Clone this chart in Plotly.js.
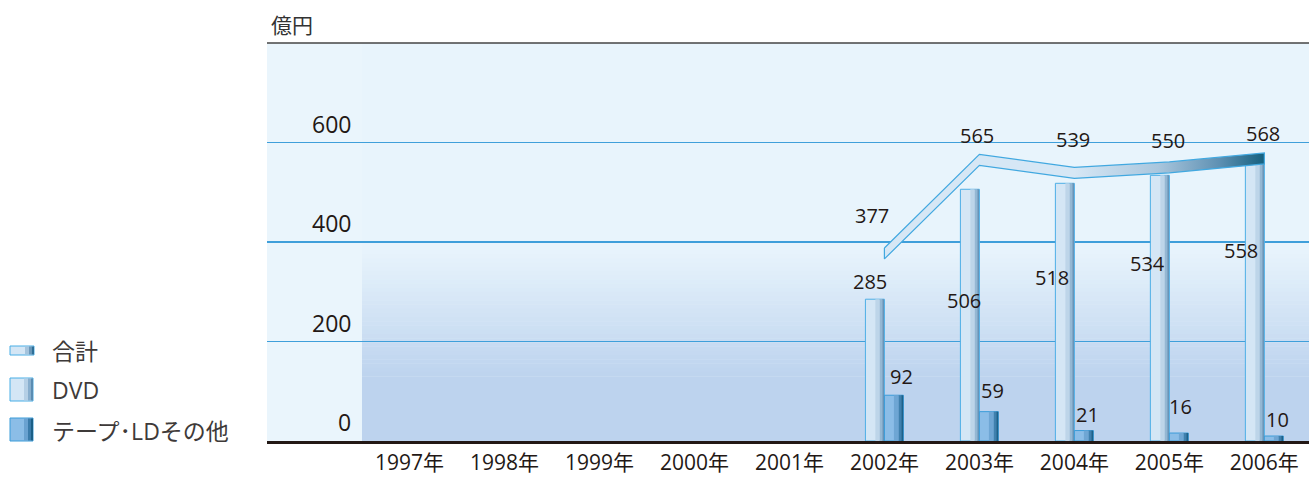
<!DOCTYPE html>
<html>
<head>
<meta charset="utf-8">
<script src="https://cdn.plot.ly/plotly-3.0.1.min.js"></script>
<style>
html,body{margin:0;padding:0;background:#fff;}
#chart{width:1309px;height:477px;}
</style>
</head>
<body>
<div id="chart"></div>
<script>
// ---------- data ----------
const categories = ['1997年','1998年','1999年','2000年','2001年','2002年','2003年','2004年','2005年','2006年'];
const dvdValues   = [null, null, null, null, null, 285, 506, 518, 534, 558];
const tapeValues  = [null, null, null, null, null, 92, 59, 21, 16, 10];
const totalValues = [null, null, null, null, null, 377, 565, 539, 550, 568];
const yTickValues = [0, 200, 400, 600];
const unitLabel = '億円';
const seriesNames = ['合計', 'DVD', 'テープ･LDその他'];

// ---------- styling / layout helpers ----------
const FONT = "'Open Sans', 'Noto Sans CJK JP', sans-serif";
const TXT = '#231815';
const W = 1309, H = 477;
const M = {l: 267, r: 0, t: 43, b: 36};
const PW = W - M.l - M.r, PH = H - M.t - M.b;
const YMAX = 800;
const px = x => (x - M.l) / PW;           // pixel -> paper x
const py = y => (H - M.b - y) / PH;       // pixel -> paper y

// label offsets (pixels) relative to each value point
const dvdLabelDx = [0,0,0,0,0,-14.5,-15.5,-22.5,-21.5,-23];
const dvdLabelDy = [0,0,0,0,0, 18,-111,-94,-88,-87];
const tapeLabelDx = [0,0,0,0,0, 17.5,13.5,13.5,11.5,13];
const tapeLabelDy = [0,0,0,0,0, 19,21,16,27,17];
const totalLabelDx = [0,0,0,0,0,-12.5,-2.5,-1.5,-1.5,-1];
const totalLabelDy = [0,0,0,0,0, 38,24,33,27,25];

function barLayer(vals, offset, width, color, line) {
  return {
    type: 'bar', x: categories, y: vals, offset: offset, width: width,
    marker: {color: color, line: line || {width: 0}},
    showlegend: false, hoverinfo: 'skip'
  };
}

const traces = [];
// DVD bars (light cylinder look)
traces.push(barLayer(dvdValues, -0.2, 0.2, '#d4e6f5', {color: '#4daee6', width: 1}));
traces.push(barLayer(dvdValues, -0.095, 0.045, '#bdd5e9'));
traces.push(barLayer(dvdValues, -0.05, 0.03, '#94b7d3'));
traces.push(barLayer(dvdValues, -0.022, 0.018, '#6794b8'));
// Tape / LD bars
traces.push(barLayer(tapeValues, 0, 0.2, '#8bbde7', {color: '#3b9cd9', width: 1}));
traces.push(barLayer(tapeValues, 0.10, 0.05, '#6ea6d4'));
traces.push(barLayer(tapeValues, 0.15, 0.03, '#3f80ae'));
traces.push(barLayer(tapeValues, 0.178, 0.02, '#1d6189'));

// Total as a ribbon built from the values
const HALF = 11;
const idx = totalValues.map((v, i) => v == null ? -1 : i).filter(i => i >= 0);
const rx = idx.map(i => categories[i]).concat(idx.slice().reverse().map(i => categories[i]));
const ry = idx.map(i => totalValues[i] + HALF).concat(idx.slice().reverse().map(i => totalValues[i] - HALF));
rx.push(rx[0]); ry.push(ry[0]);
traces.push({
  type: 'scatter', mode: 'lines', x: rx, y: ry, fill: 'toself',
  fillcolor: '#d6e7f5',
  fillgradient: {type: 'horizontal', colorscale: [[0,'#d6e7f5'],[0.5,'#d6e7f5'],[0.72,'#a9c6dd'],[0.88,'#5f91b3'],[1,'#15607f']]},
  line: {color: '#41a8e0', width: 1.2},
  showlegend: false, hoverinfo: 'skip'
});

// ---------- shapes ----------
const shapes = [];
// background: light top, gradient into deeper blue lower down
const topCol = [232, 244, 252], botCol = [189, 211, 238];
const gTop = 384, gBot = 130, N = 30;
shapes.push({type:'rect', layer:'below', xref:'paper', yref:'y', x0:0, x1:1, y0:gTop, y1:YMAX, line:{width:0}, fillcolor:'rgb(232,244,252)'});
shapes.push({type:'rect', layer:'below', xref:'paper', yref:'y', x0:0, x1:1, y0:0, y1:gBot, line:{width:0}, fillcolor:'rgb(189,211,238)'});
for (let k = 0; k < N; k++) {
  const t = (k + 0.5) / N;
  const c = topCol.map((a, j) => Math.round(a + (botCol[j] - a) * t));
  const y1 = gTop - (gTop - gBot) * k / N, y0 = gTop - (gTop - gBot) * (k + 1) / N;
  shapes.push({type:'rect', layer:'below', xref:'paper', yref:'y', x0:0, x1:1, y0:y0, y1:y1 + 0.5, line:{width:0}, fillcolor:`rgb(${c.join(',')})`});
}
// left label column
shapes.push({type:'rect', layer:'below', xref:'x', yref:'y', x0:-1.5, x1:-0.5, y0:0, y1:YMAX, line:{width:0}, fillcolor:'#eaf5fc'});
// top rule
shapes.push({type:'line', xref:'paper', yref:'paper', x0:0, x1:1, y0:1, y1:1, line:{color:'#444', width:1.5}});

// legend swatches (drawn manually)
function rectPx(x0, x1, y0, y1, color, line) {
  shapes.push({type:'rect', xref:'paper', yref:'paper', x0:px(x0), x1:px(x1), y0:py(y1), y1:py(y0),
    fillcolor: color, line: line || {width:0}, layer:'above'});
}
rectPx(10, 34, 346, 355, '#d4e6f5', {color:'#49aee6', width:1});
rectPx(25, 29, 346.5, 354.5, '#a5c4dd'); rectPx(29, 31.5, 346.5, 354.5, '#6b98ba'); rectPx(31.5, 34, 346.5, 354.5, '#2f6f98');
rectPx(10, 33, 378, 401, '#d4e6f5', {color:'#49aee6', width:1});
rectPx(24, 28, 378.5, 400.5, '#b5cfe5'); rectPx(28, 31, 378.5, 400.5, '#88aecd'); rectPx(31, 33, 378.5, 400.5, '#5a8cb2');
rectPx(10, 33, 418, 441, '#8bbde7', {color:'#3b9cd9', width:1});
rectPx(24, 28, 418.5, 440.5, '#6aa2d1'); rectPx(28, 31, 418.5, 440.5, '#3b7cab'); rectPx(31, 33, 418.5, 440.5, '#1b5f86');

// ---------- annotations ----------
const annotations = [];
function valLabel(i, v, dx, dy) {
  annotations.push({x: categories[i], y: v, xref:'x', yref:'y', text: String(v), showarrow:false,
    xanchor:'center', yanchor:'middle', xshift: dx, yshift: dy, font:{family:FONT, size:20, color:TXT}});
}
categories.forEach((c, i) => {
  if (dvdValues[i] != null) valLabel(i, dvdValues[i], dvdLabelDx[i], dvdLabelDy[i]);
  if (tapeValues[i] != null) valLabel(i, tapeValues[i], tapeLabelDx[i], tapeLabelDy[i]);
  if (totalValues[i] != null) valLabel(i, totalValues[i], totalLabelDx[i], totalLabelDy[i]);
});
yTickValues.forEach(v => {
  annotations.push({x: -0.5, y: v, xref:'x', yref:'y', text: String(v), showarrow:false,
    xanchor:'right', yanchor:'middle', xshift:-9, yshift:19, font:{family:FONT, size:23, color:TXT}});
});
annotations.push({x: px(269), y: py(25), xref:'paper', yref:'paper', text: unitLabel, showarrow:false,
  xanchor:'left', yanchor:'middle', font:{family:FONT, size:21, color:'#333'}});
const legendY = [351, 390, 431];
seriesNames.forEach((n, k) => {
  annotations.push({x: px(50), y: py(legendY[k]), xref:'paper', yref:'paper', text: n, showarrow:false,
    xanchor:'left', yanchor:'middle', font:{family:FONT, size:23, color:'#3e3a39'}});
});

const layout = {
  width: W, height: H,
  margin: M,
  paper_bgcolor: '#ffffff', plot_bgcolor: '#e8f4fc',
  barmode: 'overlay',
  showlegend: false,
  hovermode: false,
  font: {family: FONT, color: TXT},
  xaxis: {
    type: 'category', categoryorder: 'array', categoryarray: categories,
    range: [-1.5, 9.47], fixedrange: true,
    showgrid: false, zeroline: false,
    showline: true, linecolor: '#231815', linewidth: 3,
    ticks: '', ticklabelstandoff: 1,
    tickfont: {family: FONT, size: 21, color: TXT}
  },
  yaxis: {
    range: [0, YMAX], dtick: 200, tick0: 0, fixedrange: true,
    showgrid: true, gridcolor: '#3f9fda', gridwidth: 1.5,
    zeroline: false, showticklabels: false, ticks: ''
  },
  shapes: shapes,
  annotations: annotations
};

Plotly.newPlot('chart', traces, layout, {staticPlot: true, displayModeBar: false});
</script>
</body>
</html>
